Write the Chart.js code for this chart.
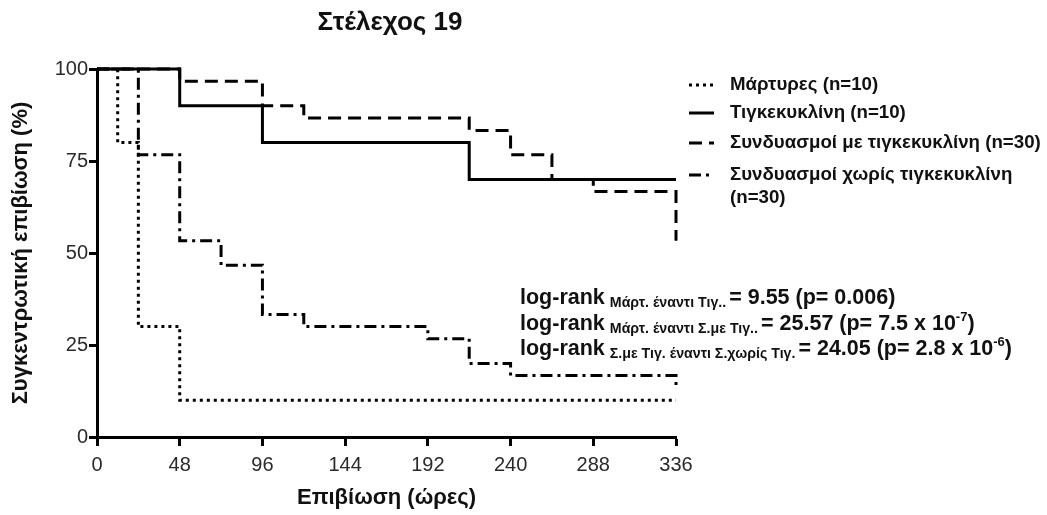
<!DOCTYPE html>
<html>
<head>
<meta charset="utf-8">
<script src="https://cdn.jsdelivr.net/npm/chart.js@4"></script>
<style>
  html, body { margin: 0; padding: 0; background: #fff; }
  #wrap { width: 1047px; height: 515px; }
</style>
</head>
<body>
<div id="wrap"><canvas id="chart1"></canvas></div>
<script>
// survival curves (hours, %)
const controlTimes = [0, 12, 24, 48, 336];
const controlSurv = [100, 80, 30, 10, 10];

const tigeTimes = [0, 48, 96, 216, 336];
const tigeSurv = [100, 90, 80, 70, 70];

const withTigeTimes = [0, 48, 96, 120, 216, 240, 264, 288, 336];
const withTigeSurv = [100, 96.7, 90, 86.7, 83.3, 76.7, 70, 66.7, 53.3];

const withoutTigeTimes = [0, 24, 48, 72, 96, 120, 192, 216, 240, 336];
const withoutTigeSurv = [100, 76.7, 53.3, 46.7, 33.3, 30, 26.7, 20, 16.7, 13.3];

const xTicks = [0, 48, 96, 144, 192, 240, 288, 336];
const yTicks = [0, 25, 50, 75, 100];

const seriesLabels = [
    'Μάρτυρες (n=10)',
    'Τιγκεκυκλίνη (n=10)',
    'Συνδυασμοί με τιγκεκυκλίνη (n=30)',
    'Συνδυασμοί χωρίς τιγκεκυκλίνη',
];
const dashes = [[3, 4], [], [13, 7], [12, 5, 3, 5]];

const logRankLines = [
    { sub: 'Μάρτ. έναντι Τιγ..', main: '= 9.55 (p= 0.006)', sup: '', tail: '' },
    { sub: 'Μάρτ. έναντι Σ.με Τιγ..', main: '= 25.57 (p= 7.5 x 10', sup: '-7', tail: ')' },
    { sub: 'Σ.με Τιγ. έναντι Σ.χωρίς Τιγ.', main: '= 24.05 (p= 2.8 x 10', sup: '-6', tail: ')' },
];

function toPoints(xs, ys) {
    return xs.map((x, i) => ({ x: x, y: ys[i] }));
}

const FONT = '"Liberation Sans", Arial, sans-serif';

const overlay = {
    id: 'overlay',
    afterDraw(chart) {
        const ctx = chart.ctx;
        ctx.save();
        ctx.fillStyle = '#111';
        ctx.textBaseline = 'middle';

        // title
        ctx.font = 'bold 26px ' + FONT;
        ctx.textAlign = 'center';
        ctx.fillText('Στέλεχος 19', 390, 23);

        // legend
        ctx.textAlign = 'left';
        ctx.font = 'bold 18.7px ' + FONT;
        const rows = [85, 113, 143, 175];
        seriesLabels.forEach((lab, i) => {
            ctx.beginPath();
            ctx.setLineDash(dashes[i]);
            ctx.lineWidth = 3;
            ctx.strokeStyle = '#000';
            ctx.moveTo(689, rows[i]);
            ctx.lineTo(714, rows[i]);
            ctx.stroke();
            ctx.fillText(lab, 730, rows[i]);
        });
        ctx.setLineDash([]);
        ctx.fillText('(n=30)', 730, 198);

        // log-rank
        ctx.textBaseline = 'alphabetic';
        const base = [304, 330, 355];
        logRankLines.forEach((l, i) => {
            let x = 520;
            ctx.font = 'bold 21.5px ' + FONT;
            ctx.fillText('log-rank', x, base[i]);
            x += ctx.measureText('log-rank').width + 5;
            ctx.font = 'bold 14.2px ' + FONT;
            ctx.fillText(l.sub, x, base[i] + 3);
            x += ctx.measureText(l.sub).width + 3;
            ctx.font = 'bold 21.5px ' + FONT;
            ctx.fillText(l.main, x, base[i]);
            x += ctx.measureText(l.main).width;
            if (l.sup) {
                ctx.font = 'bold 13px ' + FONT;
                ctx.fillText(l.sup, x, base[i] - 9);
                x += ctx.measureText(l.sup).width;
                ctx.font = 'bold 21.5px ' + FONT;
                ctx.fillText(l.tail, x, base[i]);
            }
        });
        ctx.restore();
    }
};

const makeSet = (i, xs, ys) => ({
    label: seriesLabels[i],
    data: toPoints(xs, ys),
    borderColor: '#000',
    borderWidth: 3,
    borderDash: dashes[i],
    pointRadius: 0,
    stepped: 'before',
    fill: false,
    clip: 6,
});

const config = {
    type: 'line',
    data: {
        datasets: [
            makeSet(0, controlTimes, controlSurv),
            makeSet(1, tigeTimes, tigeSurv),
            makeSet(2, withTigeTimes, withTigeSurv),
            makeSet(3, withoutTigeTimes, withoutTigeSurv),
        ]
    },
    options: {
        responsive: false,
        animation: false,
        maintainAspectRatio: false,
        layout: { padding: { top: 69, right: 371, left: 0, bottom: 0 } },
        plugins: {
            legend: { display: false },
            tooltip: { enabled: false },
        },
        scales: {
            x: {
                type: 'linear',
                min: 0,
                max: 336,
                afterBuildTicks: (s) => { s.ticks = xTicks.map(v => ({ value: v })); },
                afterFit: (s) => { s.height = 78; },
                border: { display: true, color: '#000', width: 3 },
                grid: { drawOnChartArea: false, drawTicks: true, tickLength: 9, tickWidth: 3, color: '#000' },
                ticks: { color: '#2a2a2a', font: { family: FONT, size: 20 }, padding: 7, maxRotation: 0 },
                title: { display: true, text: 'Επιβίωση (ώρες)', color: '#111', font: { family: FONT, size: 22, weight: 'bold' }, padding: { top: 2 } },
            },
            y: {
                min: 0,
                max: 100,
                afterBuildTicks: (s) => { s.ticks = yTicks.map(v => ({ value: v })); },
                afterFit: (s) => { s.width = 97; },
                border: { display: true, color: '#000', width: 3 },
                grid: { drawOnChartArea: false, drawTicks: true, tickLength: 8, tickWidth: 3, color: '#000' },
                ticks: { color: '#2a2a2a', font: { family: FONT, size: 20 }, padding: 1 },
                title: { display: true, text: 'Συγκεντρωτική επιβίωση (%)', color: '#111', font: { family: FONT, size: 22, weight: 'bold' }, padding: { top: 8, bottom: 4 } },
            }
        }
    },
    plugins: [overlay]
};

const cv = document.getElementById('chart1');
cv.width = 1047;
cv.height = 515;
let chart1 = new Chart(cv, config);
</script>
</body>
</html>
